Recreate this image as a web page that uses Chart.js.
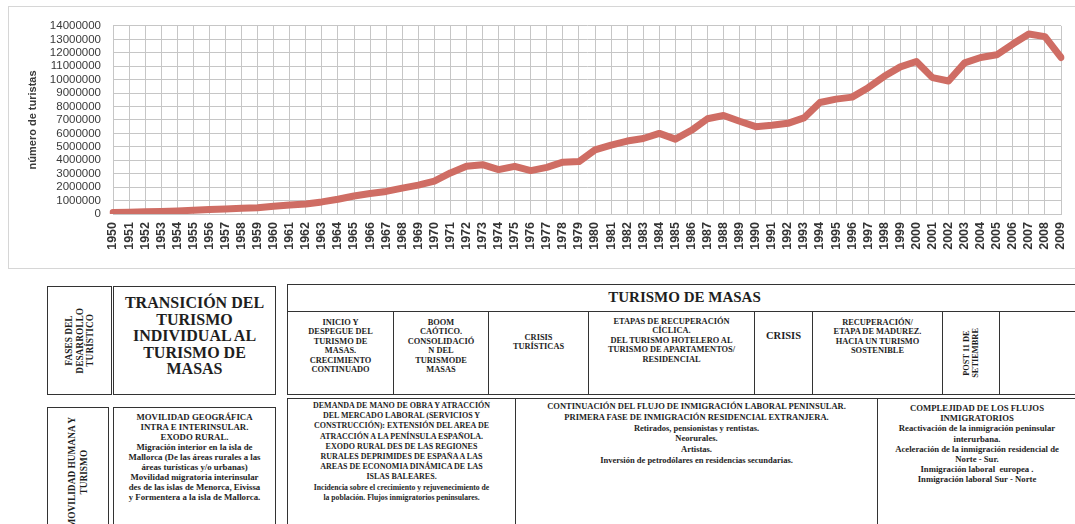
<!DOCTYPE html>
<html>
<head>
<meta charset="utf-8">
<script src="https://cdn.jsdelivr.net/npm/chart.js@4.4.1/dist/chart.umd.min.js"></script>
<style>
  body { margin: 0; background: #fff; width: 1075px; height: 524px; overflow: hidden; position: relative; }
  #chartBox { position: absolute; left: 8px; top: 6px; width: 1075px; height: 261px; border: 1px solid #d6d6d6; }
  .cell { position: absolute; box-sizing: border-box; border: 1.5px solid #333; font-family: "Liberation Serif", "Times New Roman", "DejaVu Serif", serif; font-weight: bold; color: #1e1e1e; text-align: center; white-space: nowrap; }
  .sub { top: 311px; height: 84px; font-size: 8.4px; line-height: 9.4px; }
  .rot { position: absolute; left: 0; top: 0; width: 100%; height: 100%; display: flex; align-items: center; justify-content: center; }
  .rot span { writing-mode: vertical-rl; transform: rotate(180deg); text-align: center; }
</style>
</head>
<body>
<div id="chartBox"><canvas id="turistasChart"></canvas></div>

<!-- fila 1: fases del desarrollo turistico -->
<div class="cell" style="left:47px;top:286px;width:65px;height:109px"><div class="rot"><span style="font-size:9.4px;line-height:10.5px">FASES DEL<br>DESARROLLO<br>TURÍSTICO</span></div></div>
<div class="cell" style="left:113px;top:286px;width:163px;height:109px;font-size:16px;line-height:16.5px;padding-top:8px">TRANSICIÓN DEL<br>TURISMO<br>INDIVIDUAL AL<br>TURISMO DE<br>MASAS</div>
<div class="cell" style="left:287px;top:284px;width:795px;height:28px;font-size:15px;line-height:25px">TURISMO DE MASAS</div>
<div class="cell sub" style="left:287px;width:107px;padding-top:6px">INICIO Y<br>DESPEGUE DEL<br>TURISMO DE<br>MASAS.<br>CRECIMIENTO<br>CONTINUADO</div>
<div class="cell sub" style="left:393px;width:96px;padding-top:6px">BOOM<br>CAÓTICO.<br>CONSOLIDACIÓ<br>N DEL<br>TURISMODE<br>MASAS</div>
<div class="cell sub" style="left:488px;width:101px;padding-top:21px">CRISIS<br>TURÍSTICAS</div>
<div class="cell sub" style="left:588px;width:167px;padding-top:5px">ETAPAS DE RECUPERACIÓN<br>CÍCLICA.<br>DEL TURISMO HOTELERO AL<br>TURISMO DE APARTAMENTOS/<br>RESIDENCIAL</div>
<div class="cell sub" style="left:754px;width:59px;padding-top:19px;font-size:10.5px">CRISIS</div>
<div class="cell sub" style="left:812px;width:131px;padding-top:6px">RECUPERACIÓN/<br>ETAPA DE MADUREZ.<br>HACIA UN TURISMO<br>SOSTENIBLE</div>
<div class="cell sub" style="left:942px;width:58px"><div class="rot"><span style="font-size:8.4px;line-height:9px">POST 11 DE<br>SETIEMBRE</span></div></div>
<div class="cell sub" style="left:999px;width:90px"></div>

<!-- fila 2: movilidad humana y turismo -->
<div class="cell" style="left:47px;top:407px;width:62px;height:130px"><div class="rot"><span style="font-size:9.4px;line-height:12px">MOVILIDAD HUMANA Y<br>TURISMO</span></div></div>
<div class="cell" style="left:113px;top:407px;width:163px;height:130px;font-size:8.8px;line-height:10px;padding-top:4px">MOVILIDAD GEOGRÁFICA<br>INTRA E INTERINSULAR.<br>EXODO RURAL.<br>Migración interior en la isla de<br>Mallorca (De las áreas rurales a las<br>áreas turísticas y/o urbanas)<br>Movilidad migratoria interinsular<br>des de las islas de Menorca, Eivissa<br>y Formentera a la isla de Mallorca.</div>
<div class="cell" style="left:287px;top:398px;width:229px;height:140px;font-size:8px;line-height:10.2px;padding-top:2px">DEMANDA DE MANO DE OBRA Y ATRACCIÓN<br>DEL MERCADO LABORAL (SERVICIOS Y<br>CONSTRUCCIÓN): EXTENSIÓN DEL AREA DE<br>ATRACCIÓN A LA PENÍNSULA ESPAÑOLA.<br>EXODO RURAL DES DE LAS REGIONES<br>RURALES DEPRIMIDES DE ESPAÑA A LAS<br>AREAS DE ECONOMIA DINÁMICA DE LAS<br>ISLAS BALEARES.<br><span style="font-size:7.7px">Incidencia sobre el crecimiento y rejuvenecimiento de<br>la población. Flujos inmigratorios peninsulares.</span></div>
<div class="cell" style="left:515px;top:398px;width:363px;height:140px;font-size:8.5px;line-height:10.8px;padding-top:2px">CONTINUACIÓN DEL FLUJO DE INMIGRACIÓN LABORAL PENINSULAR.<br>PRIMERA FASE DE INMIGRACIÓN RESIDENCIAL EXTRANJERA.<br>Retirados, pensionistas y rentistas.<br>Neorurales.<br>Artistas.<br>Inversión de petrodólares en residencias secundarias.</div>
<div class="cell" style="left:877px;top:398px;width:230px;height:140px;font-size:8.7px;line-height:10.2px;padding-top:4px;text-align:left"><div style="width:198px;text-align:center">COMPLEJIDAD DE LOS FLUJOS<br>INMIGRATORIOS<br>Reactivación de la inmigración peninsular<br>interurbana.<br>Aceleración de la inmigración residencial de<br>Norte - Sur.<br>Inmigración laboral&nbsp; europea .<br>Inmigración laboral Sur - Norte</div></div>

<script>
// Turistas llegados, 1950-2009
const years = ['1950', '1951', '1952', '1953', '1954', '1955', '1956', '1957', '1958', '1959',
               '1960', '1961', '1962', '1963', '1964', '1965', '1966', '1967', '1968', '1969',
               '1970', '1971', '1972', '1973', '1974', '1975', '1976', '1977', '1978', '1979',
               '1980', '1981', '1982', '1983', '1984', '1985', '1986', '1987', '1988', '1989',
               '1990', '1991', '1992', '1993', '1994', '1995', '1996', '1997', '1998', '1999',
               '2000', '2001', '2002', '2003', '2004', '2005', '2006', '2007', '2008', '2009'];

const turistas = [120000, 130000, 160000, 190000, 230000, 280000, 330000, 370000, 420000, 470000,
                  570000, 670000, 740000, 900000, 1100000, 1340000, 1530000, 1680000, 1930000, 2150000,
                  2440000, 3060000, 3550000, 3670000, 3300000, 3550000, 3230000, 3470000, 3860000, 3900000,
                  4770000, 5130000, 5430000, 5620000, 6000000, 5570000, 6230000, 7090000, 7330000, 6900000,
                  6500000, 6600000, 6750000, 7150000, 8300000, 8550000, 8700000, 9400000, 10250000, 10950000,
                  11350000, 10150000, 9900000, 11250000, 11650000, 11850000, 12650000, 13400000, 13200000, 11650000];

const yMin = 0;
const yMax = 14000000;
const yStep = 1000000;

const gridColor = '#c6c6c6';

const ctx = document.getElementById('turistasChart').getContext('2d');
const chart = new Chart(ctx, {
    type: 'line',
    data: {
        labels: years,
        datasets: [{
            label: 'número de turistas',
            data: turistas,
            borderColor: '#cf6d64',
            borderWidth: 7,
            borderJoinStyle: 'round',
            borderCapStyle: 'round',
            pointRadius: 0,
            tension: 0,
            fill: false
        }]
    },
    options: {
        responsive: true,
        maintainAspectRatio: false,
        animation: false,
        layout: {
            padding: { left: 0, right: 17, top: 17, bottom: 0 }
        },
        plugins: {
            legend: { display: false },
            tooltip: { enabled: false }
        },
        scales: {
            x: {
                grid: { color: gridColor, drawTicks: false },
                border: { color: gridColor },
                ticks: {
                    autoSkip: false,
                    minRotation: 90,
                    maxRotation: 90,
                    padding: 8,
                    color: '#333333',
                    font: { family: 'Liberation Sans', size: 12.5, weight: 'bold' }
                },
                afterFit: function(scale) { scale.height = 54; }
            },
            y: {
                min: yMin,
                max: yMax,
                grid: { color: gridColor, drawTicks: false },
                border: { color: gridColor },
                ticks: {
                    stepSize: yStep,
                    autoSkip: false,
                    padding: 12,
                    color: '#3a3a3a',
                    font: { family: 'Liberation Sans', size: 11.5 },
                    callback: function(value) { return value; }
                },
                title: {
                    display: true,
                    text: 'número de turistas',
                    color: '#3a3a3a',
                    padding: { top: 17, bottom: 0 },
                    font: { family: 'Liberation Sans', size: 11, weight: 'bold' }
                },
                afterFit: function(scale) { scale.width = 104; }
            }
        }
    }
});
</script>
</body>
</html>
